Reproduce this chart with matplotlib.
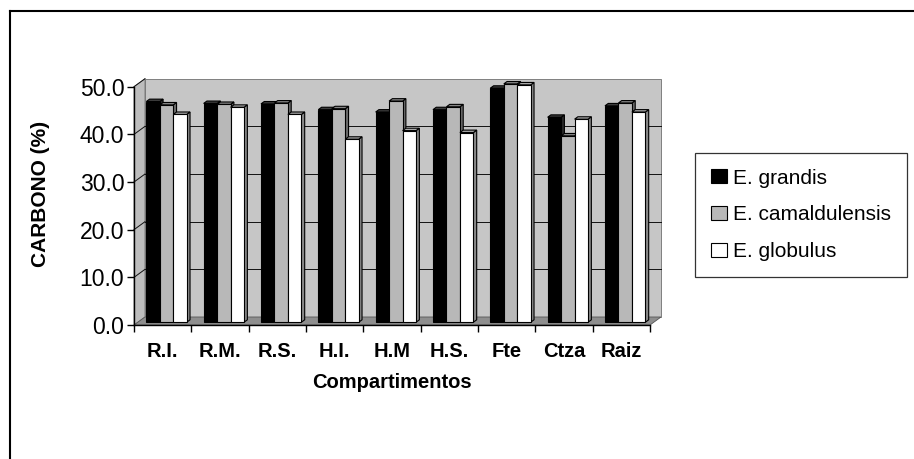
import matplotlib
matplotlib.use("Agg")
import matplotlib.pyplot as plt
from matplotlib.patches import Polygon, Patch
from matplotlib.lines import Line2D

plt.rcParams["font.family"] = ["Liberation Sans", "DejaVu Sans"]

# Data
categorias = ["R.I.", "R.M.", "R.S.", "H.I.", "H.M", "H.S.", "Fte", "Ctza", "Raiz"]
grandis = [46.3, 45.9, 45.8, 44.6, 44.1, 44.6, 49.1, 43.0, 45.4]
camaldulensis = [45.6, 45.7, 46.0, 44.8, 46.4, 45.2, 50.0, 39.1, 46.0]
globulus = [43.6, 45.1, 43.6, 38.4, 40.2, 39.8, 49.8, 42.6, 44.1]
series_names = ["E. grandis", "E. camaldulensis", "E. globulus"]
y_ticks = [0, 10, 20, 30, 40, 50]

# colours: front, side, top
front_colors = ["#000000", "#b8b8b8", "#ffffff"]
side_colors = ["#2a2a2a", "#6a6a6a", "#888888"]
top_colors = ["#3c3c3c", "#858585", "#aaaaaa"]
wall_color = "#c6c6c6"
floor_color = "#8e8e8e"

W, H = 914, 459
fig = plt.figure(figsize=(W / 100, H / 100), dpi=100)
ax = fig.add_axes([134 / W, (H - 325) / H, 516 / W, 238.3 / H])
n = len(categorias)
ymax = y_ticks[-1]
ax.set_xlim(0, n)
ax.set_ylim(0, ymax)

# depth of the 3D box in data units
dxu = 11 / (516 / n)
dyu = 8 / (238.3 / ymax)

# back wall, side wall and floor
ax.add_patch(Polygon([(dxu, dyu), (n + dxu, dyu), (n + dxu, ymax + dyu), (dxu, ymax + dyu)],
                     closed=True, facecolor=wall_color, edgecolor="#707070", lw=0.6,
                     clip_on=False, zorder=0))
ax.add_patch(Polygon([(0, 0), (dxu, dyu), (dxu, ymax + dyu), (0, ymax)],
                     closed=True, facecolor="#bdbdbd", edgecolor="#707070", lw=0.6,
                     clip_on=False, zorder=0))
ax.add_patch(Polygon([(0, 0), (n, 0), (n + dxu, dyu), (dxu, dyu)],
                     closed=True, facecolor=floor_color, edgecolor="#555555", lw=0.6,
                     clip_on=False, zorder=0.5))

# gridlines on the walls
for yv in y_ticks[1:-1]:
    ax.plot([dxu, n + dxu], [yv + dyu, yv + dyu], color="#111111", lw=0.7,
            clip_on=False, zorder=0.6)
for yv in y_ticks[1:]:
    ax.plot([0, dxu], [yv, yv + dyu], color="#111111", lw=0.7,
            clip_on=False, zorder=0.6)

# bars
w = 0.235
sx, sy = 0.35 * dxu, 0.35 * dyu
bdx, bdy = 0.3 * dxu, 0.3 * dyu
for i, vals in enumerate([grandis, camaldulensis, globulus]):
    z = 2 + i * 0.1
    x0 = [c + 0.5 - 1.5 * w + i * w + sx for c in range(n)]
    for xl, v in zip(x0, vals):
        top = v + sy
        ax.add_patch(Polygon([(xl + w, sy), (xl + w + bdx, sy + bdy),
                              (xl + w + bdx, top + bdy), (xl + w, top)],
                             closed=True, facecolor=side_colors[i], edgecolor="black",
                             lw=0.8, zorder=z, clip_on=False))
        ax.add_patch(Polygon([(xl, top), (xl + bdx, top + bdy),
                              (xl + w + bdx, top + bdy), (xl + w, top)],
                             closed=True, facecolor=top_colors[i], edgecolor="black",
                             lw=0.8, zorder=z, clip_on=False))
    ax.bar(x0, vals, width=w, bottom=sy, align="edge", color=front_colors[i],
           edgecolor="black", lw=0.8, zorder=z + 0.01, clip_on=False)

# axes
for s in ["top", "right"]:
    ax.spines[s].set_visible(False)
for s in ["left", "bottom"]:
    ax.spines[s].set_linewidth(1.0)
    ax.spines[s].set_zorder(5)
ax.set_facecolor("none")

ax.set_yticks(y_ticks)
ax.set_yticklabels([f"{v:.1f}" for v in y_ticks], fontsize=16.5)
ax.tick_params(axis="y", length=5, width=1.0, pad=2)

ax.set_xticks(range(n + 1))
ax.set_xticklabels([])
ax.tick_params(axis="x", which="major", length=5, width=1.0)
ax.set_xticks([c + 0.5 for c in range(n)], minor=True)
ax.set_xticklabels(categorias, minor=True, fontsize=14.5, fontweight="bold")
ax.tick_params(axis="x", which="minor", length=0, pad=12)

ax.set_xlabel("Compartimentos", fontsize=14.5, fontweight="bold")
ax.xaxis.set_label_coords(0.5, -0.243)
ax.xaxis.label.set_va("center")
ax.set_ylabel("CARBONO (%)", fontsize=15, fontweight="bold")
ax.yaxis.set_label_coords(-0.182, 0.55)
ax.yaxis.label.set_va("center")

# legend
handles = [Patch(facecolor=front_colors[i], edgecolor="black", lw=0.8) for i in range(3)]
fig.legend(handles, series_names, loc="upper left", bbox_to_anchor=(695 / W, 1 - 153 / H),
           borderaxespad=0, frameon=True, fancybox=False, edgecolor="black",
           fontsize=15, handlelength=0.77, handleheight=0.63, handletextpad=0.3,
           labelspacing=0.85, borderpad=0.75)
fig.legends[0].get_frame().set_linewidth(0.9)

# outer chart frame
fig.add_artist(Line2D([10 / W, 1], [1 - 11 / H, 1 - 11 / H], color="black", lw=1.5))
fig.add_artist(Line2D([10 / W, 10 / W], [0, 1 - 11 / H], color="black", lw=1.5))

fig.savefig("out.png", dpi=100, facecolor="white")
